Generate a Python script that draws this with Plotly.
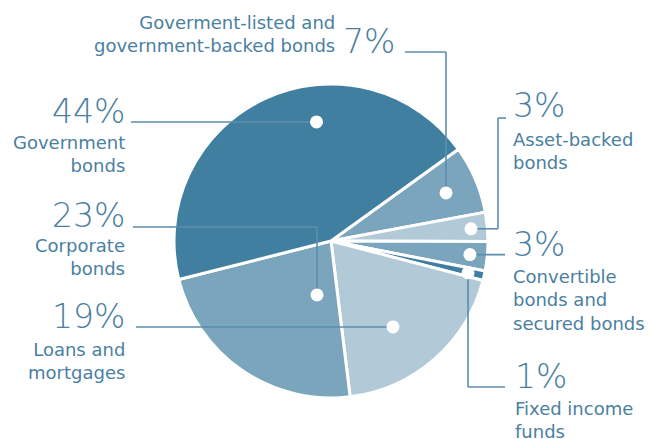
import math
import plotly.graph_objects as go

# Portfolio allocation by asset class (share of total, %)
categories = [
    "Goverment-listed and government-backed bonds",
    "Asset-backed bonds",
    "Convertible bonds and secured bonds",
    "Fixed income funds",
    "Loans and mortgages",
    "Corporate bonds",
    "Government bonds",
]
shares = [7, 3, 3, 1, 19, 23, 44]

# Label text as broken over lines next to each slice
label_lines = [
    ["Goverment-listed and", "government-backed bonds"],
    ["Asset-backed", "bonds"],
    ["Convertible", "bonds and", "secured bonds"],
    ["Fixed income", "funds"],
    ["Loans and", "mortgages"],
    ["Corporate", "bonds"],
    ["Government", "bonds"],
]

# ---- styling -------------------------------------------------------------
W, H = 651, 439
CX, CY, R = 331, 241, 157          # pie centre / radius in pixels
ROTATION = 54.2                    # compass angle where the first slice starts
DARK, MID, LIGHT = "#417fa0", "#7ba4bd", "#b2cad8"
slice_colors = [MID, LIGHT, MID, DARK, LIGHT, MID, DARK]
TEXT = "#4a80a2"
LINE = "#5b8eae"
FONT = "DejaVu Sans"
PCT_SIZE, LBL_SIZE = 33, 18

# Callout layout: dot placement inside the slice (fraction along slice, radius
# fraction), the leader path as horizontal/vertical legs, and where the
# percentage / label text sits.
callouts = [
    dict(t=0.52, r=0.794, legs=[("v", 52), ("h", 405)],
         side="top", px=397, pbase=53, lbase=28),
    dict(t=0.52, r=0.895, legs=[("h", 498), ("v", 118), ("h", 506)],
         side="right", px=511, pbase=117, lbase=145),
    dict(t=0.50, r=0.889, legs=[("h", 505)],
         side="right", px=511, pbase=256, lbase=282),
    dict(t=0.58, r=0.896, legs=[("v", 387), ("h", 505)],
         side="right", px=513, pbase=388, lbase=414),
    dict(t=0.579, r=0.675, legs=[("h", 136)],
         side="left", px=127, pbase=328, lbase=355),
    dict(t=0.26, r=0.355, legs=[("v", 227), ("h", 133)],
         side="left", px=127, pbase=227, lbase=251),
    dict(t=0.614, r=0.764, legs=[("h", 131)],
         side="left", px=127, pbase=123, lbase=148),
]


def fx(x):
    return x / W


def fy(y):
    return 1 - y / H


fig = go.Figure(
    go.Pie(
        labels=categories,
        values=shares,
        sort=False,
        direction="clockwise",
        rotation=ROTATION,
        marker=dict(colors=slice_colors, line=dict(color="white", width=3)),
        textinfo="none",
        hoverinfo="label+percent",
        showlegend=False,
        domain=dict(x=[fx(CX - R), fx(CX + R)], y=[fy(CY + R), fy(CY - R)]),
    )
)

shapes, annotations = [], []
total = sum(shares)
cum = 0.0
for value, lines, c in zip(shares, label_lines, callouts):
    ang = math.radians(ROTATION + (cum + c["t"] * value) / total * 360)
    cum += value
    dx = CX + c["r"] * R * math.sin(ang)
    dy = CY - c["r"] * R * math.cos(ang)

    # leader line
    x, y = dx, dy
    for kind, target in c["legs"]:
        nx, ny = (target, y) if kind == "h" else (x, target)
        shapes.append(dict(type="line", xref="paper", yref="paper",
                           x0=fx(x), y0=fy(y), x1=fx(nx), y1=fy(ny),
                           line=dict(color=LINE, width=1.6), layer="above"))
        x, y = nx, ny

    # white dot on the slice
    rad = 6.5
    shapes.append(dict(type="circle", xref="paper", yref="paper",
                       x0=fx(dx - rad), x1=fx(dx + rad),
                       y0=fy(dy + rad), y1=fy(dy - rad),
                       fillcolor="white", line=dict(width=0), layer="above"))

    # percentage and label text
    pct = f"{value}%"
    if c["side"] == "left":
        xa, align = "right", "right"
        annotations.append(dict(x=fx(c["px"]), y=fy(c["pbase"] - 0.35 * PCT_SIZE),
                                text=pct, xanchor="right", yanchor="middle"))
        annotations.append(dict(x=fx(c["px"]), y=fy(c["lbase"] - 0.93 * LBL_SIZE - 1),
                                text="<br>".join(lines), xanchor="right",
                                yanchor="top", align="right", small=True))
    elif c["side"] == "right":
        annotations.append(dict(x=fx(c["px"]), y=fy(c["pbase"] - 0.35 * PCT_SIZE),
                                text=pct, xanchor="left", yanchor="middle"))
        annotations.append(dict(x=fx(c["px"]), y=fy(c["lbase"] - 0.93 * LBL_SIZE - 1),
                                text="<br>".join(lines), xanchor="left",
                                yanchor="top", align="left", small=True))
    else:
        annotations.append(dict(x=fx(c["px"]), y=fy(c["pbase"] - 0.35 * PCT_SIZE),
                                text=pct, xanchor="right", yanchor="middle"))
        annotations.append(dict(x=fx(c["px"] - 60), y=fy(c["lbase"] - 0.93 * LBL_SIZE - 1),
                                text="<br>".join(lines), xanchor="right",
                                yanchor="top", align="right", small=True))

final_ann = []
for a in annotations:
    small = a.pop("small", False)
    a.update(xref="paper", yref="paper", showarrow=False,
             font=dict(family=FONT, size=LBL_SIZE if small else PCT_SIZE,
                       color=TEXT, weight=400 if small else 200))
    final_ann.append(a)

fig.update_layout(
    width=W, height=H,
    margin=dict(l=0, r=0, t=0, b=0),
    paper_bgcolor="white",
    plot_bgcolor="white",
    shapes=shapes,
    annotations=final_ann,
)

fig.write_html("out.html")
